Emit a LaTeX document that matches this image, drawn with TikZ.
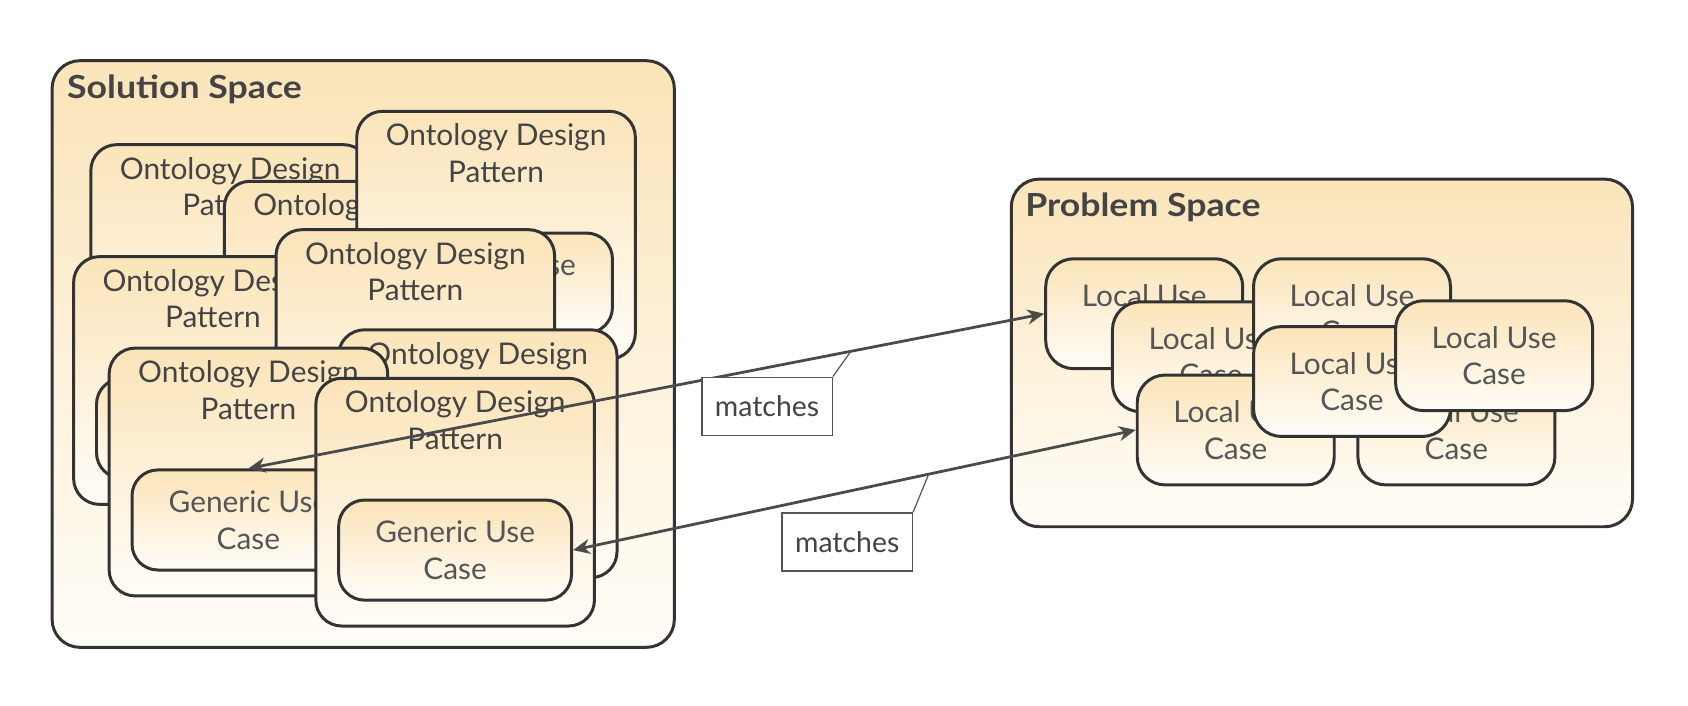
\documentclass[tikz,border=0pt]{standalone}
\usepackage{fontspec}
\setmainfont{Lato}
\newfontfamily\titlefont{Lato}[FakeStretch=1.12]
\usetikzlibrary{positioning,arrows.meta}
\definecolor{edge}{HTML}{333333}
\definecolor{ink}{HTML}{444444}
\definecolor{softink}{HTML}{555555}
\definecolor{peach}{HTML}{FBE4B9}
\definecolor{cream}{HTML}{FFFDF8}
\definecolor{linkgray}{HTML}{4A4A4A}
\begin{document}
\begin{tikzpicture}[
    x=0.541pt, y=-0.541pt,
    space/.style={rectangle, rounded corners=14pt, draw=edge, line width=1.5pt, top color=peach, bottom color=cream, anchor=north west, inner sep=0pt},
    spacetitle/.style={anchor=west, inner sep=0pt, text=ink, font=\titlefont\bfseries\fontsize{16}{18}\selectfont},
    odp/.style={rectangle, rounded corners=13pt, draw=edge, line width=1.5pt, top color=peach, bottom color=cream, minimum width=140pt, minimum height=124.5pt, anchor=north west},
    odptext/.style={inner sep=0pt, align=center, text=ink, font=\fontsize{15}{18.4}\selectfont},
    guc/.style={rectangle, rounded corners=13pt, draw=edge, line width=1.5pt, top color=peach, bottom color=cream, minimum width=117pt, minimum height=50.3pt, align=center, text=softink, font=\fontsize{15}{18.4}\selectfont},
    luc/.style={rectangle, rounded corners=14pt, draw=edge, line width=1.5pt, top color=peach, bottom color=cream, minimum width=99pt, minimum height=55.2pt, anchor=north west, align=center, text=softink, font=\fontsize{15}{18.4}\selectfont},
    tag/.style={rectangle, draw=softink, line width=0.7pt, fill=white, minimum width=65.5pt, minimum height=29.3pt, text=ink, font=\fontsize{14.3}{16}\selectfont},
    link/.style={{Stealth[length=8.5pt,width=7.5pt]}-{Stealth[length=8.5pt,width=7.5pt]}, line width=1.4pt, draw=linkgray},
    callout/.style={draw=softink, line width=0.6pt}
]
\useasboundingbox (0,0) rectangle (1568,655.8);

% Solution space
\node[space, minimum width=312.7pt, minimum height=294.8pt] (solution) at (47,55) {};
\node[spacetitle] (soltitle) at (62,83) {Solution Space};

% Ontology design patterns, back to front
\node[odp] (odpA) at (83,133) {};
\node[odptext, below=6.8pt of odpA.north] (txtA) {Ontology Design\\Pattern};

\node[odp] (odpD) at (207,167) {};
\node[odptext, below=6.8pt of odpD.north] (txtD) {Ontology Design\\Pattern};

\node[odp] (odpB) at (330,102) {};
\node[odptext, below=6.8pt of odpB.north] (txtB) {Ontology Design\\Pattern};
\node[guc, above=13pt of odpB.south] (gucB) {Generic Use\\Case};

\node[odp] (odpC) at (67,237) {};
\node[odptext, below=6.8pt of odpC.north] (txtC) {Ontology Design\\Pattern};
\node[guc, above=13pt of odpC.south] (gucC) {Generic Use\\Case};

\node[odp] (odpH) at (255,212) {};
\node[odptext, below=6.8pt of odpH.north] (txtH) {Ontology Design\\Pattern};

\node[odp] (odpE) at (313,305) {};
\node[odptext, below=6.8pt of odpE.north] (txtE) {Ontology Design\\Pattern};

\node[odp] (odpF) at (100,322) {};
\node[odptext, below=6.8pt of odpF.north] (txtF) {Ontology Design\\Pattern};
\node[guc, above=13pt of odpF.south] (gucF) {Generic Use\\Case};

\node[odp] (odpG) at (292,350) {};
\node[odptext, below=6.8pt of odpG.north] (txtG) {Ontology Design\\Pattern};
\node[guc, above=13pt of odpG.south] (gucG) {Generic Use\\Case};

% Problem space
\node[space, minimum width=312.2pt, minimum height=174.7pt] (problem) at (938,165) {};
\node[spacetitle] (probtitle) at (952,193) {Problem Space};

% Local use cases, back to front
\node[luc] (lucA) at (970,239) {Local Use\\Case};
\node[luc] (lucB) at (1032,279) {Local Use\\Case};
\node[luc] (lucC) at (1163,239) {Local Use\\Case};
\node[luc] (lucD) at (1055,347) {Local Use\\Case};
\node[luc] (lucE) at (1260,347) {Local Use\\Case};
\node[luc] (lucF) at (1163,302) {Local Use\\Case};
\node[luc] (lucG) at (1295,278) {Local Use\\Case};

% Matches
\draw[link] (gucF.north) -- (lucA.west) coordinate[pos=0.757] (m1);
\draw[link] (gucG.east) -- (lucD.west) coordinate[pos=0.632] (m2);

\node[tag] (tag1) at (712.5,377.5) {matches};
\node[tag] (tag2) at (787,503.5) {matches};
\draw[callout] (tag1.north east) -- (m1);
\draw[callout] (tag2.north east) -- (m2);

\end{tikzpicture}
\end{document}
